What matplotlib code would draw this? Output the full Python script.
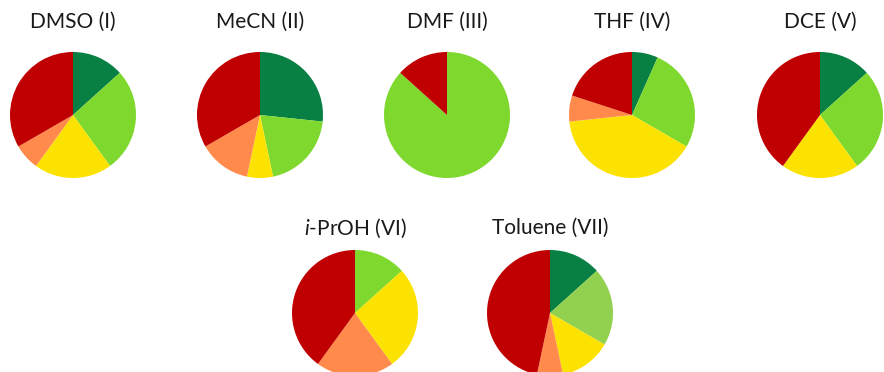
import matplotlib.pyplot as plt

plt.rcParams['font.family'] = ['Lato', 'DejaVu Sans']
plt.rcParams['mathtext.fontset'] = 'custom'
plt.rcParams['mathtext.it'] = 'Lato:italic'
plt.rcParams['mathtext.rm'] = 'Lato'

# solvents and their share of outcomes (in 15ths): dark green, light green, yellow, orange, red
solvents = ['DMSO (I)', 'MeCN (II)', 'DMF (III)', 'THF (IV)', 'DCE (V)',
            '$\\mathit{i}$-PrOH (VI)', 'Toluene (VII)']
dmso = [2, 4, 3, 1, 5]
mecn = [4, 3, 1, 2, 5]
dmf = [0, 13, 0, 0, 2]
thf = [1, 4, 6, 1, 3]
dce = [2, 4, 3, 0, 6]
iproh = [0, 2, 4, 3, 6]
toluene = [2, 3, 2, 1, 7]
shares = [dmso, mecn, dmf, thf, dce, iproh, toluene]

colors = ['#087f43', '#7ed82e', '#fce200', '#ff8a4b', '#c00000']
tol_colors = ['#087f43', '#92d050', '#fce200', '#ff8a4b', '#c00000']

W, H = 884, 372
fig = plt.figure(figsize=(W / 100, H / 100), dpi=100)

# pixel centres of each pie and its title
centres = [(73, 115), (260, 115), (447, 115), (632, 115), (820, 115),
           (355, 313), (550, 313)]
title_y = [22, 22, 22, 22, 22, 228, 228]
r = 63

for i, (name, vals) in enumerate(zip(solvents, shares)):
    cx, cy = centres[i]
    ax = fig.add_axes([(cx - r) / W, 1 - (cy + r) / H, 2 * r / W, 2 * r / H])
    cols = tol_colors if i == 6 else colors
    ax.pie(vals, colors=cols, startangle=90, counterclock=False,
           wedgeprops=dict(linewidth=0))
    ax.set_aspect('equal')
    ax.set_xlim(-1, 1)
    ax.set_ylim(-1, 1)
    ax.axis('off')
    fig.text(cx / W, 1 - title_y[i] / H, name, ha='center', va='center',
             fontsize=15, color='#1a1a1a')

fig.savefig('out.png', dpi=100)
